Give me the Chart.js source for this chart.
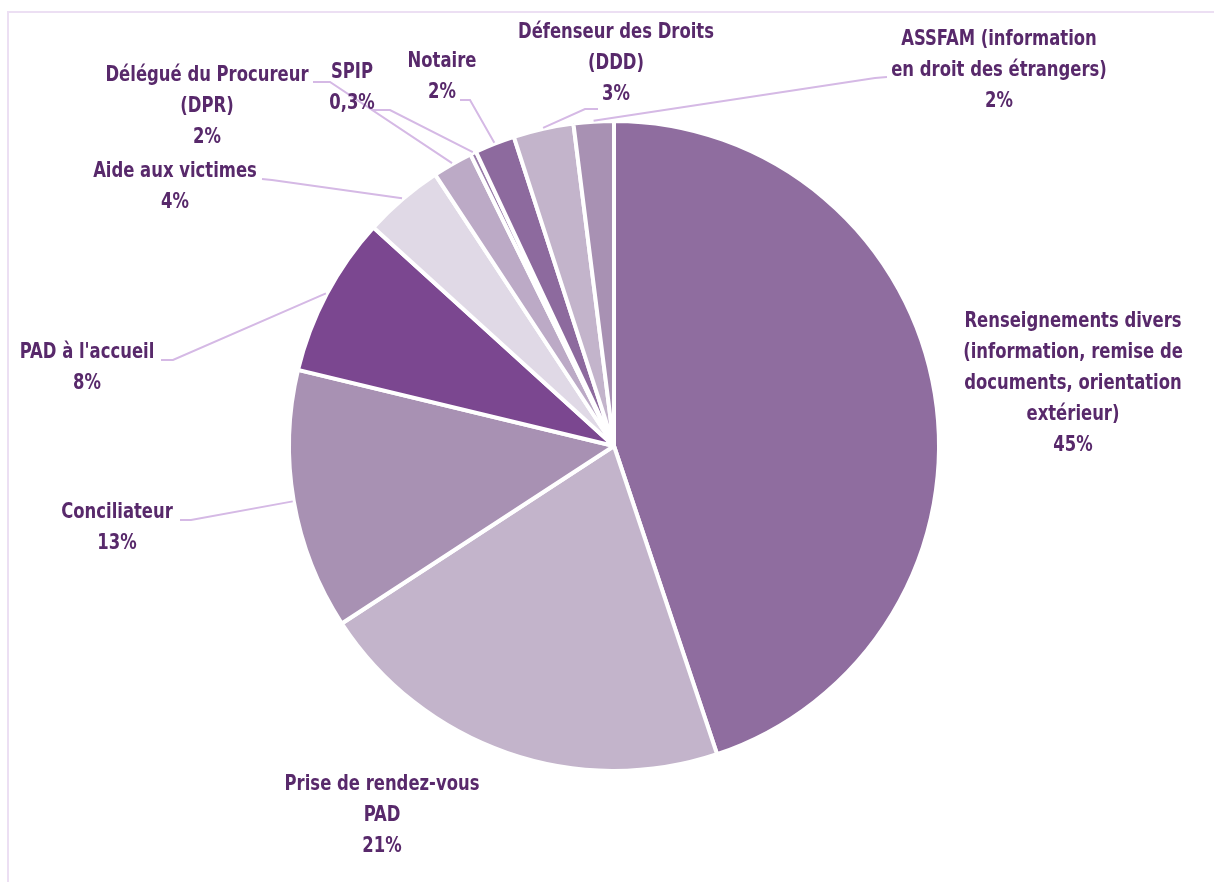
<!DOCTYPE html>
<html lang="fr">
<head>
<meta charset="utf-8">
<title>Répartition des demandes</title>
<script src="https://cdn.jsdelivr.net/npm/chart.js@4/dist/chart.umd.min.js"></script>
<style>
    html, body { margin: 0; padding: 0; background: #fff; }
    #wrap { position: relative; width: 1214px; height: 882px; }
</style>
</head>
<body>
<div id="wrap"><canvas id="pieChart" width="1214" height="882"></canvas></div>
<script>
    // Données
    const categories = [
        ['Renseignements divers', '(information, remise de', 'documents, orientation', 'extérieur)'],
        ['Prise de rendez-vous', 'PAD'],
        ['Conciliateur'],
        ["PAD à l'accueil"],
        ['Aide aux victimes'],
        ['Délégué du Procureur', '(DPR)'],
        ['SPIP'],
        ['Notaire'],
        ['Défenseur des Droits', '(DDD)'],
        ['ASSFAM (information', 'en droit des étrangers)']
    ];
    const values = [45, 21, 13, 8, 4, 2, 0.3, 2, 3, 2];
    const colors = ['#8f6d9f', '#c3b4cb', '#a891b3', '#7b4790', '#e0d9e6',
                    '#bcaac6', '#9a7cab', '#8d6a9e', '#c3b4cb', '#a891b3'];

    // Placement des étiquettes : centre du texte, 1re ligne, et coude du trait de rappel
    const labelLayout = [
        { x: 1073, y: 322, line: null },
        { x: 382,  y: 785, line: null },
        { x: 117,  y: 513, line: [[180, 520], [191, 520]] },
        { x: 87,   y: 353, line: [[161, 360], [173, 360]] },
        { x: 175,  y: 172, line: [[262, 179], [272, 180]] },
        { x: 207,  y: 76,  line: [[313, 82], [330, 82]] },
        { x: 352,  y: 73,  line: [[373, 110], [390, 110]] },
        { x: 442,  y: 62,  line: [[460, 100], [470, 100]] },
        { x: 616,  y: 33,  line: [[598, 109], [585, 109]] },
        { x: 999,  y: 40,  line: [[887, 77], [875, 78]] }
    ];

    const textColor = '#58296b';
    const leaderColor = '#d5b9e5';
    const labelFont = '700 21px "Liberation Sans Narrow", "DejaVu Sans Condensed", "Roboto", sans-serif';
    const squeeze = 0.87; // police condensée absente : on resserre un peu
    const lineHeight = 31;

    function formatPct(v) {
        return String(v).replace('.', ',') + '%';
    }

    // Cadre clair en haut et à gauche
    const framePlugin = {
        id: 'frame',
        beforeDraw(chart) {
            const ctx = chart.ctx;
            ctx.save();
            ctx.strokeStyle = '#ecdff3';
            ctx.lineWidth = 2;
            ctx.beginPath();
            ctx.moveTo(8, 882);
            ctx.lineTo(8, 12);
            ctx.lineTo(1214, 12);
            ctx.stroke();
            ctx.restore();
        }
    };

    // Étiquettes avec traits de rappel (pas de plugin datalabels disponible)
    const labelPlugin = {
        id: 'pieLabels',
        afterDatasetsDraw(chart) {
            const ctx = chart.ctx;
            const arcs = chart.getDatasetMeta(0).data;
            ctx.save();
            arcs.forEach((arc, i) => {
                const lay = labelLayout[i];
                if (lay.line) {
                    const mid = (arc.startAngle + arc.endAngle) / 2;
                    const ax = arc.x + Math.cos(mid) * (arc.outerRadius + 1);
                    const ay = arc.y + Math.sin(mid) * (arc.outerRadius + 1);
                    ctx.strokeStyle = leaderColor;
                    ctx.lineWidth = 2;
                    ctx.beginPath();
                    ctx.moveTo(lay.line[0][0], lay.line[0][1]);
                    ctx.lineTo(lay.line[1][0], lay.line[1][1]);
                    ctx.lineTo(ax, ay);
                    ctx.stroke();
                }
                const lines = categories[i].concat([formatPct(values[i])]);
                ctx.font = labelFont;
                ctx.fillStyle = textColor;
                ctx.textAlign = 'center';
                ctx.textBaseline = 'middle';
                lines.forEach((txt, k) => {
                    ctx.save();
                    ctx.translate(lay.x, lay.y + k * lineHeight);
                    ctx.scale(squeeze, 1);
                    ctx.fillText(txt, 0, 0);
                    ctx.restore();
                });
            });
            ctx.restore();
        }
    };

    const ctx = document.getElementById('pieChart').getContext('2d');
    new Chart(ctx, {
        type: 'pie',
        data: {
            labels: categories.map(c => c.join(' ')),
            datasets: [{
                data: values,
                backgroundColor: colors,
                borderColor: '#ffffff',
                borderWidth: 4
            }]
        },
        options: {
            responsive: false,
            animation: false,
            layout: {
                padding: { left: 287, right: 273, top: 119, bottom: 109 }
            },
            plugins: {
                legend: { display: false },
                tooltip: { enabled: false }
            }
        },
        plugins: [framePlugin, labelPlugin]
    });
</script>
</body>
</html>
